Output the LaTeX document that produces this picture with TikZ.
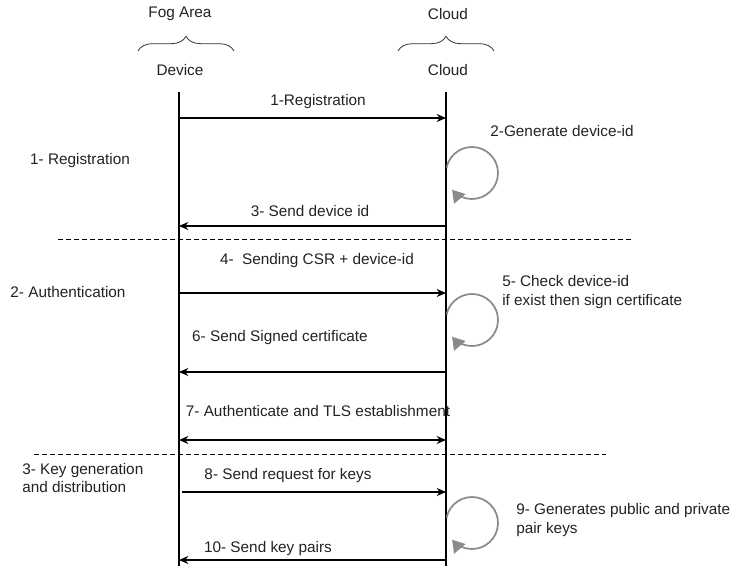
\documentclass[tikz,border=0pt]{standalone}
\usepackage{fontspec}
\setmainfont{Liberation Sans}
\usetikzlibrary{arrows.meta,decorations.pathreplacing}
\definecolor{loopgray}{HTML}{8A8A8A}
\definecolor{txtgray}{HTML}{222222}

\begin{document}
\begin{tikzpicture}[x=0.75pt,y=-0.75pt,font=\fontsize{11.5}{14}\selectfont,text=txtgray,
	msg/.style={-{Stealth[length=7pt,width=6pt]},line width=0.8pt},
	selfloop/.style={loopgray,line width=1.3pt,-{Triangle[length=9pt,width=11pt]}},
	sep/.style={dash pattern=on 3.5pt off 2.5pt,line width=0.6pt},
	lbl/.style={inner sep=0pt},
	grp/.style={decorate,decoration={brace,amplitude=11pt},line width=0.6pt,black!80}]
	\useasboundingbox (0,0) rectangle (743,588);
	% headers
	\node[lbl] (fog) at (180,14) {Fog Area};
	\node[lbl] (cloudgrp) at (448,14) {Cloud};
	\draw[grp] (138,51) -- (234,51);
	\draw[grp] (398,51) -- (494,51);
	\node[lbl] (dev) at (180,70) {Device};
	\node[lbl] (cld) at (448,70) {Cloud};
	% lifelines
	\coordinate (devtop) at (179,92);
	\coordinate (devbot) at (179,566);
	\coordinate (cldtop) at (446,92);
	\coordinate (cldbot) at (446,566);
	\draw[line width=0.8pt] (devtop) -- (devbot);
	\draw[line width=0.8pt] (cldtop) -- (cldbot);
	% message end points
	\foreach \n/\y in {1/118,3/226,4/293,6/372,7/440,8/492,10/560}{
		\coordinate (d\n) at (179,\y);
		\coordinate (c\n) at (446,\y);
	}
	\coordinate (d8) at (182,492);
	% phases
	\node[lbl] (ph1) at (80,161) {1- Registration};
	\node[lbl] (ph2) at (68,292) {2- Authentication};
	\node[lbl,align=left,anchor=west] (ph3) at (22,478) {3- Key generation\\and distribution};
	\draw[sep] (58,239) -- (633,239);
	\draw[sep] (34,454) -- (606,454);
	% messages
	\draw[msg] (d1) -- (c1);
	\node[lbl] (m1) at (318,102) {1-Registration};
	\draw[msg] (c3) -- (d3);
	\node[lbl] (m3) at (310,211) {3- Send device id};
	\draw[msg] (d4) -- (c4);
	\node[lbl] (m4) at (317,261) {4-\ \ Sending CSR + device-id};
	\draw[msg] (c6) -- (d6);
	\node[lbl] (m6) at (280,338) {6- Send Signed certificate};
	\draw[{Stealth[length=7pt,width=6pt]}-{Stealth[length=7pt,width=6pt]},line width=0.8pt] (d7) -- (c7);
	\node[lbl] (m7) at (318,411) {7- Authenticate and TLS establishment};
	\draw[msg] (d8) -- (c8);
	\node[lbl] (m8) at (288,476) {8- Send request for keys};
	\draw[msg] (c10) -- (d10);
	\node[lbl] (m10) at (268,549) {10- Send key pairs};
	% self loops
	\foreach \cy in {173,320,523}
		\draw[selfloop] (472,\cy) ++(-168:26) arc[start angle=-168,end angle=140,radius=26];
	\node[lbl] (s2) at (562,131) {2-Generate device-id};
	\node[lbl,align=left,anchor=west] (s5) at (502,292) {5- Check device-id\\if exist then sign certificate};
	\node[lbl,align=left,anchor=west] (s9) at (516,520) {9- Generates public and private\\pair keys};
\end{tikzpicture}
\end{document}
